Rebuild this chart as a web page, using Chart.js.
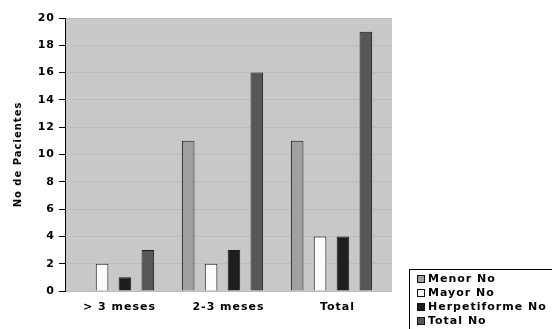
<!DOCTYPE html>
<html>
<head>
<meta charset="utf-8">
<script src="https://cdn.jsdelivr.net/npm/chart.js@4"></script>
<style>
  html, body { margin: 0; padding: 0; background: #fff; }
  #wrap { width: 552px; height: 329px; }
</style>
</head>
<body>
<div id="wrap"><canvas id="c" width="552" height="329"></canvas></div>
<script>
// Patient counts per lesion type, grouped by time period
const categories = ['> 3 meses', '2-3 meses', 'Total'];
const seriesNames = ['Menor No', 'Mayor No', 'Herpetiforme No', 'Total No'];
const menorNo = [0, 11, 11];
const mayorNo = [2, 2, 4];
const herpetiformeNo = [1, 3, 4];
const totalNo = [3, 16, 19];
const yTicks = [0, 2, 4, 6, 8, 10, 12, 14, 16, 18, 20];

const seriesValues = [menorNo, mayorNo, herpetiformeNo, totalNo];
const fills = ['#a0a0a0', '#fbfbfb', '#1e1e1e', '#575757'];
const FONT = '"DejaVu Sans", sans-serif';

const datasets = seriesNames.map((name, s) => ({
  label: name,
  data: seriesValues[s].map((v, i) => ({ x: i, y: v })),
  backgroundColor: fills[s],
  borderColor: '#1a1a1a',
  borderWidth: 1,
  borderSkipped: 'start',
  categoryPercentage: 0.84,
  barPercentage: 0.55
}));

// grey plot background + letter spacing for all text
const plotBackground = {
  id: 'plotBackground',
  beforeDraw(chart) {
    const { ctx, chartArea: a } = chart;
    ctx.letterSpacing = '1px';
    ctx.save();
    ctx.fillStyle = '#c8c8c8';
    ctx.fillRect(a.left, a.top, a.right - a.left, a.bottom - a.top);
    ctx.restore();
  }
};

// boxed legend at the lower right
const boxLegend = {
  id: 'boxLegend',
  afterDraw(chart) {
    const ctx = chart.ctx;
    ctx.save();
    ctx.letterSpacing = '1px';
    ctx.lineWidth = 1;
    ctx.strokeStyle = '#000';
    ctx.strokeRect(409.5, 269.5, 200, 100);
    ctx.font = 'bold 11px ' + FONT;
    ctx.textBaseline = 'middle';
    ctx.textAlign = 'left';
    chart.data.datasets.forEach((ds, i) => {
      const y = 279 + i * 14;
      ctx.fillStyle = ds.backgroundColor;
      ctx.fillRect(417, y - 4, 8, 8);
      ctx.strokeStyle = '#111';
      ctx.strokeRect(417.5, y - 3.5, 7, 7);
      ctx.fillStyle = '#000';
      ctx.fillText(ds.label, 428, y + 0.5);
    });
    ctx.restore();
  }
};

new Chart(document.getElementById('c'), {
  type: 'bar',
  data: { datasets },
  plugins: [plotBackground, boxLegend],
  options: {
    responsive: false,
    animation: false,
    layout: { padding: { top: 18, right: 160, bottom: 0, left: 0 } },
    plugins: { legend: { display: false }, tooltip: { enabled: false } },
    scales: {
      x: {
        type: 'linear',
        offset: false,
        min: -0.445,
        max: 2.555,
        afterBuildTicks(scale) { scale.ticks = categories.map((c, i) => ({ value: i })); },
        afterFit(scale) { scale.height = 38; },
        grid: { display: false, drawTicks: false },
        border: { display: false },
        ticks: {
          padding: 10,
          labelOffset: 6,
          maxRotation: 0,
          autoSkip: false,
          color: '#000',
          font: { family: FONT, size: 11, weight: 'bold' },
          callback: (v) => categories[v]
        }
      },
      y: {
        min: 0,
        max: 20,
        afterBuildTicks(scale) { scale.ticks = yTicks.map(v => ({ value: v })); },
        afterFit(scale) { scale.width = 65; },
        grid: { color: '#bcbcbc', lineWidth: 1, tickColor: '#000', tickLength: 6 },
        border: { display: true, color: '#000', width: 1 },
        ticks: {
          padding: 4,
          color: '#000',
          font: { family: FONT, size: 11, weight: 'bold' }
        },
        title: {
          display: true,
          text: 'No de Pacientes',
          color: '#000',
          padding: { top: 12, bottom: 0 },
          font: { family: FONT, size: 10, weight: 'bold' }
        }
      }
    }
  }
});
</script>
</body>
</html>
